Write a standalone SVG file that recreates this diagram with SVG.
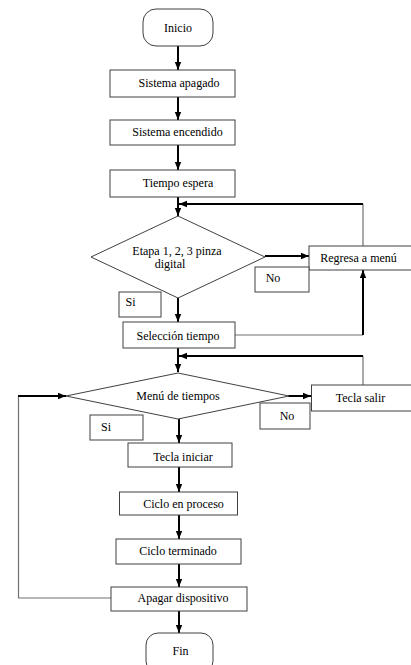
<svg xmlns="http://www.w3.org/2000/svg" width="411" height="665" viewBox="0 0 411 665">
<style>
.box{fill:#fff;stroke:#404040;stroke-width:1}
.t{font-size:12px;fill:#000;text-anchor:middle;dominant-baseline:central}
.thick{fill:none;stroke:#000;stroke-width:2}
.thin{fill:none;stroke:#707070;stroke-width:1.2}
</style>
<defs>
<marker id="ah" markerUnits="userSpaceOnUse" markerWidth="8" markerHeight="8" viewBox="0 0 8 8" refX="8" refY="4" orient="auto">
<path d="M0,0.8 L8,4 L0,7.2 Z" fill="#000"/>
</marker>
</defs>
<rect width="411" height="665" fill="#fff"/>
<g id="connectors">
<line class="thick" x1="178" y1="46" x2="178" y2="70" marker-end="url(#ah)"/>
<line class="thick" x1="178" y1="97" x2="178" y2="120" marker-end="url(#ah)"/>
<line class="thick" x1="178" y1="145" x2="178" y2="170" marker-end="url(#ah)"/>
<line class="thick" x1="178" y1="197" x2="178" y2="216" marker-end="url(#ah)"/>
<line class="thin" x1="363" y1="246" x2="363" y2="204"/>
<line class="thick" x1="363" y1="204" x2="179" y2="204" marker-end="url(#ah)"/>
<line class="thick" x1="265" y1="256" x2="309" y2="256" marker-end="url(#ah)"/>
<line class="thick" x1="178" y1="298" x2="178" y2="322" marker-end="url(#ah)"/>
<line class="thin" x1="235" y1="335" x2="363" y2="335"/>
<line class="thick" x1="363" y1="335" x2="363" y2="270" marker-end="url(#ah)"/>
<line class="thick" x1="178" y1="348" x2="178" y2="372" marker-end="url(#ah)"/>
<line class="thin" x1="363" y1="385" x2="363" y2="356"/>
<line class="thick" x1="363" y1="356" x2="179" y2="356" marker-end="url(#ah)"/>
<line class="thick" x1="288" y1="396" x2="311" y2="396" marker-end="url(#ah)"/>
<line class="thick" x1="179" y1="419" x2="179" y2="443" marker-end="url(#ah)"/>
<line class="thick" x1="179" y1="467" x2="179" y2="492" marker-end="url(#ah)"/>
<line class="thick" x1="179" y1="515" x2="179" y2="539" marker-end="url(#ah)"/>
<line class="thick" x1="179" y1="564" x2="179" y2="587" marker-end="url(#ah)"/>
<line class="thick" x1="179" y1="611" x2="179" y2="633" marker-end="url(#ah)"/>
<polyline class="thin" points="111,598 18.5,598 18.5,396"/>
<line class="thick" x1="18" y1="396" x2="66" y2="396" marker-end="url(#ah)"/>
</g>
<g font-family="'Liberation Serif', 'DejaVu Serif', serif">
<g id="inicio"><rect class="box" x="143" y="9" width="70" height="37" rx="13"/><text class="t" x="178" y="28">Inicio</text></g>
<g id="sistema-apagado"><rect class="box" x="110" y="70" width="125" height="27"/><text class="t" x="179" y="83">Sistema apagado</text></g>
<g id="sistema-encendido"><rect class="box" x="110" y="120" width="125" height="25"/><text class="t" x="177.5" y="132">Sistema encendido</text></g>
<g id="tiempo-espera"><rect class="box" x="110" y="170" width="125" height="27"/><text class="t" x="178" y="183">Tiempo espera</text></g>
<g id="etapa"><polygon class="box" points="178,216 265,257 178,298 91,257"/><text class="t" x="177" y="251">Etapa 1, 2, 3 pinza</text><text class="t" x="170" y="264">digital</text></g>
<g id="regresa"><rect class="box" x="309" y="246" width="104" height="24"/><text class="t" x="358.5" y="258">Regresa a menú</text></g>
<g id="no1"><rect class="box" x="255" y="267" width="54" height="25"/><text class="t" x="273" y="278">No</text></g>
<g id="si1"><rect class="box" x="119" y="292" width="42" height="25"/><text class="t" x="130.5" y="302">Si</text></g>
<g id="seleccion"><rect class="box" x="123" y="322" width="112" height="26"/><text class="t" x="178" y="335.5">Selección tiempo</text></g>
<g id="menu"><polygon class="box" points="178,373 289,396 178,419 66,396"/><text class="t" x="178" y="396">Menú de tiempos</text></g>
<g id="tecla-salir"><rect class="box" x="311.5" y="385" width="101" height="26"/><text class="t" x="360.5" y="398">Tecla salir</text></g>
<g id="no2"><rect class="box" x="260" y="403" width="50" height="26"/><text class="t" x="287" y="415.5">No</text></g>
<g id="si2"><rect class="box" x="90" y="415" width="53" height="25"/><text class="t" x="106" y="427">Si</text></g>
<g id="tecla-iniciar"><rect class="box" x="128" y="443" width="104" height="24"/><text class="t" x="183" y="456.5">Tecla iniciar</text></g>
<g id="ciclo-proceso"><rect class="box" x="119.5" y="492" width="118" height="23"/><text class="t" x="183.5" y="503.5">Ciclo en proceso</text></g>
<g id="ciclo-terminado"><rect class="box" x="116" y="539" width="125" height="25"/><text class="t" x="178" y="551">Ciclo terminado</text></g>
<g id="apagar"><rect class="box" x="111" y="587" width="136" height="24"/><text class="t" x="183" y="598">Apagar dispositivo</text></g>
<g id="fin"><rect class="box" x="146" y="633" width="67" height="40" rx="12"/><text class="t" x="180.5" y="651">Fin</text></g>
</g>
</svg>
